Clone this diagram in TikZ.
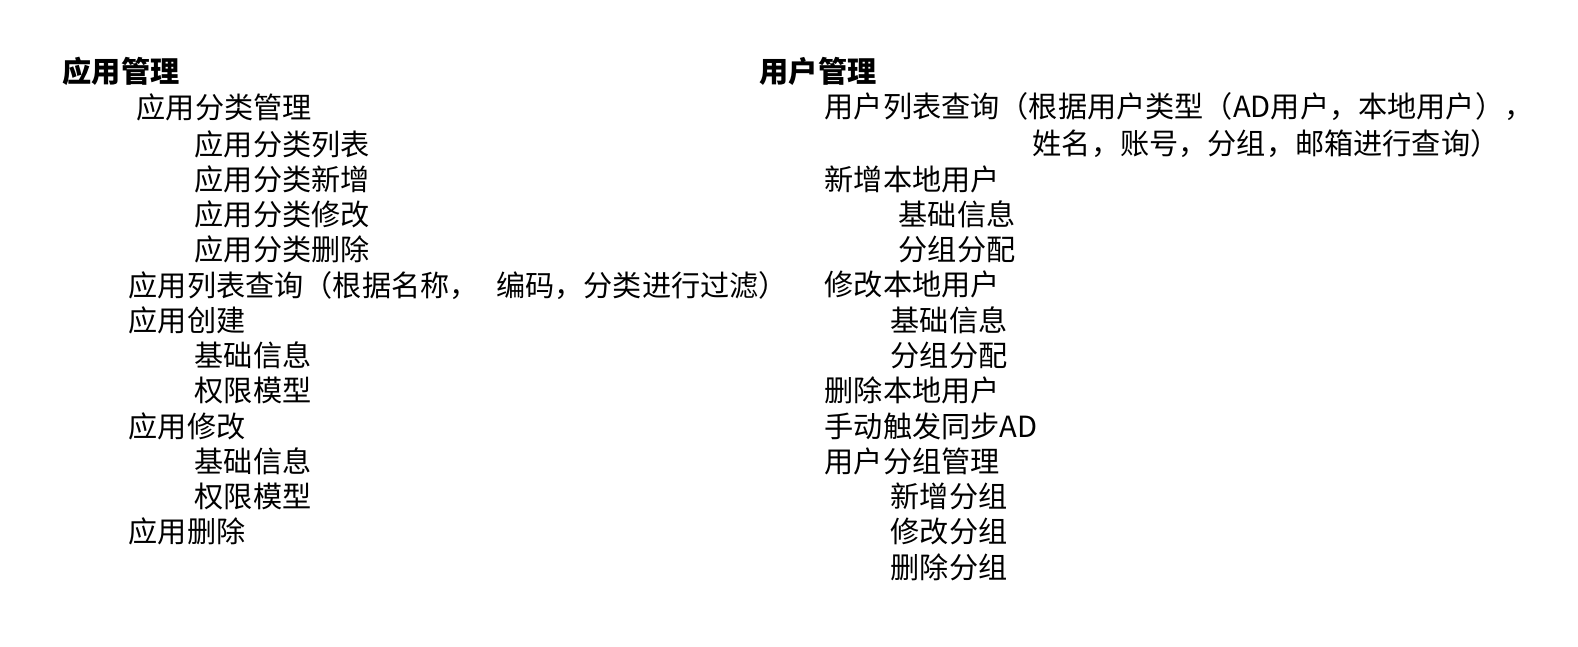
\documentclass[tikz,border=0pt]{standalone}
\usepackage{fontspec}
\setmainfont{Noto Sans CJK SC}
\begin{document}
\begin{tikzpicture}[x=0.1mm,y=-0.1mm,
  t/.style={anchor=west,inner sep=0pt,font=\fontsize{8.3pt}{10pt}\selectfont},
  h/.style={t,font=\fontsize{8.3pt}{10pt}\selectfont\bfseries}]
\useasboundingbox (0,0) rectangle (1578,647);
\node[h] (a0) at (62,71) {应用管理};
\node[t] (a1) at (136,107) {应用分类管理};
\node[t] (a2) at (194,144) {应用分类列表};
\node[t] (a3) at (194,179) {应用分类新增};
\node[t] (a4) at (194,214) {应用分类修改};
\node[t] (a5) at (194,249) {应用分类删除};
\node[t] (a6) at (128,286) {应用列表查询（根据名称，\hspace{0.6em}编码，分类进行过滤）};
\node[t] (a7) at (128,320) {应用创建};
\node[t] (a8) at (194,355) {基础信息};
\node[t] (a9) at (194,390) {权限模型};
\node[t] (a10) at (128,426) {应用修改};
\node[t] (a11) at (194,461) {基础信息};
\node[t] (a12) at (194,496) {权限模型};
\node[t] (a13) at (128,531) {应用删除};
\node[h] (b0) at (759,71) {用户管理};
\node[t] (b1) at (824,107) {用户列表查询（根据用户类型（AD用户，本地用户），};
\node[t] (b2) at (1032,144) {姓名，账号，分组，邮箱进行查询）};
\node[t] (b3) at (824,179) {新增本地用户};
\node[t] (b4) at (898,214) {基础信息};
\node[t] (b5) at (898,249) {分组分配};
\node[t] (b6) at (824,284) {修改本地用户};
\node[t] (b7) at (890,320) {基础信息};
\node[t] (b8) at (890,355) {分组分配};
\node[t] (b9) at (824,390) {删除本地用户};
\node[t] (b10) at (824,426) {手动触发同步AD};
\node[t] (b11) at (824,461) {用户分组管理};
\node[t] (b12) at (890,496) {新增分组};
\node[t] (b13) at (890,531) {修改分组};
\node[t] (b14) at (890,567) {删除分组};
\end{tikzpicture}
\end{document}
